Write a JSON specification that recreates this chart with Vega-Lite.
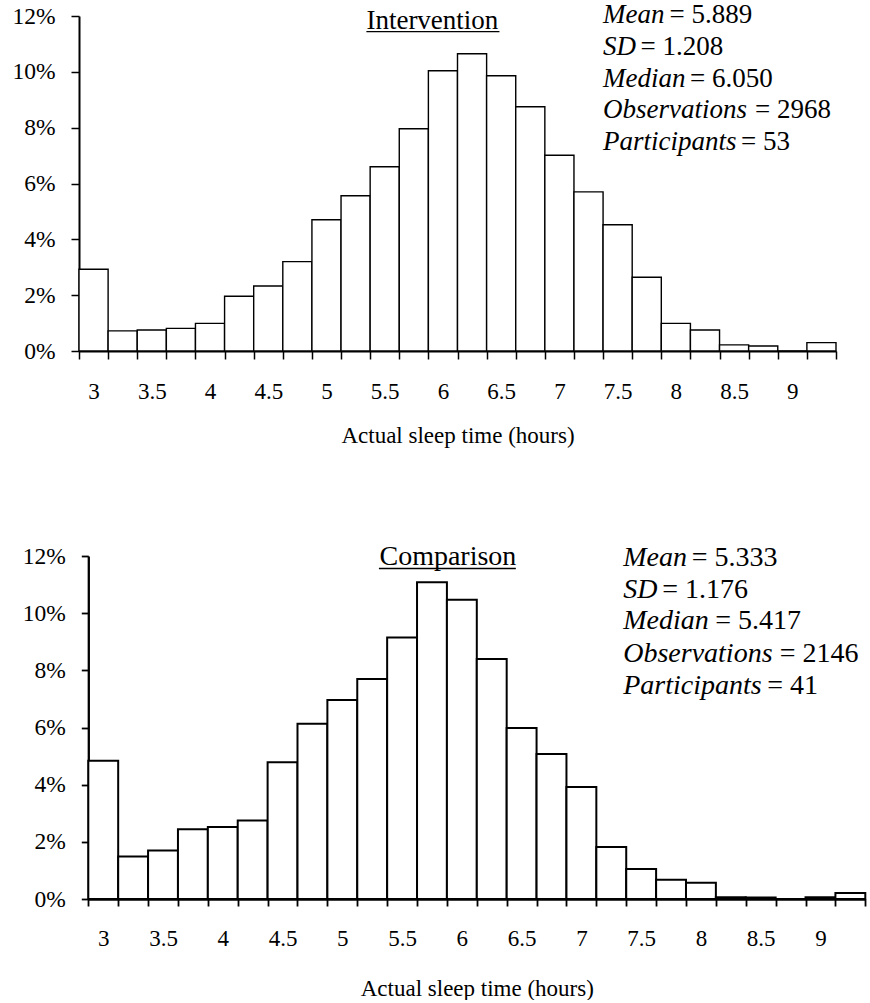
{
  "$schema": "https://vega.github.io/schema/vega-lite/v6.json",
  "background": "white",
  "padding": {"left": 11, "top": 1, "right": 0, "bottom": 0},
  "datasets": {
    "intervention": [
      {"hours": 3, "pct": 2.93}, {"hours": 3.25, "pct": 0.72}, {"hours": 3.5, "pct": 0.75}, {"hours": 3.75, "pct": 0.81},
      {"hours": 4, "pct": 0.99}, {"hours": 4.25, "pct": 1.96}, {"hours": 4.5, "pct": 2.33}, {"hours": 4.75, "pct": 3.2},
      {"hours": 5, "pct": 4.7}, {"hours": 5.25, "pct": 5.56}, {"hours": 5.5, "pct": 6.6}, {"hours": 5.75, "pct": 7.96},
      {"hours": 6, "pct": 10.04}, {"hours": 6.25, "pct": 10.65}, {"hours": 6.5, "pct": 9.86}, {"hours": 6.75, "pct": 8.75},
      {"hours": 7, "pct": 7.01}, {"hours": 7.25, "pct": 5.7}, {"hours": 7.5, "pct": 4.52}, {"hours": 7.75, "pct": 2.64},
      {"hours": 8, "pct": 0.99}, {"hours": 8.25, "pct": 0.75}, {"hours": 8.5, "pct": 0.22}, {"hours": 8.75, "pct": 0.18},
      {"hours": 9, "pct": 0}, {"hours": 9.25, "pct": 0.3}
    ],
    "comparison": [
      {"hours": 3, "pct": 4.84}, {"hours": 3.25, "pct": 1.49}, {"hours": 3.5, "pct": 1.7}, {"hours": 3.75, "pct": 2.44},
      {"hours": 4, "pct": 2.52}, {"hours": 4.25, "pct": 2.75}, {"hours": 4.5, "pct": 4.78}, {"hours": 4.75, "pct": 6.13},
      {"hours": 5, "pct": 6.96}, {"hours": 5.25, "pct": 7.7}, {"hours": 5.5, "pct": 9.15}, {"hours": 5.75, "pct": 11.08},
      {"hours": 6, "pct": 10.47}, {"hours": 6.25, "pct": 8.4}, {"hours": 6.5, "pct": 5.98}, {"hours": 6.75, "pct": 5.07},
      {"hours": 7, "pct": 3.92}, {"hours": 7.25, "pct": 1.82}, {"hours": 7.5, "pct": 1.05}, {"hours": 7.75, "pct": 0.67},
      {"hours": 8, "pct": 0.57}, {"hours": 8.25, "pct": 0.06}, {"hours": 8.5, "pct": 0.05}, {"hours": 8.75, "pct": 0},
      {"hours": 9, "pct": 0.06}, {"hours": 9.25, "pct": 0.21}
    ]
  },
  "spacing": 96,
  "vconcat": [
    {
      "width": 757,
      "height": 335,
      "layer": [
        {
          "data": {"name": "intervention"},
          "mark": {"type": "bar", "fill": "white", "stroke": "black", "strokeWidth": 1.4},
          "encoding": {
            "x": {"field": "hours", "type": "ordinal", "scale": {"paddingInner": 0, "paddingOuter": 0},
              "axis": {"title": "Actual sleep time (hours)", "tickBand": "extent", "labelAngle": 0, "labelExpr": "datum.value % 0.5 == 0 ? datum.label : ''", "labelOverlap": false, "labelFlush": false, "tickSize": 8, "tickWidth": 1.5, "domainWidth": 2, "labelPadding": 21, "titlePadding": 21, "labelFontSize": 23, "titleFontSize": 23, "titleFontWeight": "normal", "grid": false}},
            "y": {"field": "pct", "type": "quantitative", "scale": {"domain": [0, 12], "nice": false},
              "axis": {"title": null, "values": [0,1,2,3,4,5,6,7,8,9,10,11,12], "labelExpr": "datum.value % 2 == 0 ? datum.value + '%' : ''", "labelOverlap": false, "labelFlush": false, "tickSize": 8, "tickWidth": 1.5, "domainWidth": 2, "labelPadding": 16, "labelFontSize": 23.5, "grid": false}}
          }
        },
        {
          "data": {"values": [{}]},
          "mark": {"type": "text", "fontSize": 27, "align": "center", "baseline": "alphabetic", "dx": 4},
          "encoding": {"x": {"datum": 6, "type": "ordinal", "bandPosition": 0}, "y": {"datum": 11.52, "type": "quantitative"}, "text": {"value": "Intervention"}}
        },
        {
          "data": {"values": [{}]},
          "mark": {"type": "rule", "color": "black", "strokeWidth": 1.3, "xOffset": -62, "x2Offset": 56.5},
          "encoding": {"x": {"datum": 6, "type": "ordinal", "bandPosition": 0}, "x2": {"datum": 6}, "y": {"datum": 11.44, "type": "quantitative"}}
        },
        {"data": {"values": [{}]}, "mark": {"type": "text", "fontSize": 27, "fontStyle": "italic", "align": "left", "baseline": "alphabetic"},
          "encoding": {"x": {"datum": 7.5, "type": "ordinal", "bandPosition": 0}, "y": {"datum": 11.74, "type": "quantitative"}, "text": {"value": "Mean"}}},
        {"data": {"values": [{}]}, "mark": {"type": "text", "fontSize": 27, "align": "left", "baseline": "alphabetic", "dx": 66.5},
          "encoding": {"x": {"datum": 7.5, "type": "ordinal", "bandPosition": 0}, "y": {"datum": 11.74, "type": "quantitative"}, "text": {"value": "= 5.889"}}},
        {"data": {"values": [{}]}, "mark": {"type": "text", "fontSize": 27, "fontStyle": "italic", "align": "left", "baseline": "alphabetic"},
          "encoding": {"x": {"datum": 7.5, "type": "ordinal", "bandPosition": 0}, "y": {"datum": 10.6, "type": "quantitative"}, "text": {"value": "SD"}}},
        {"data": {"values": [{}]}, "mark": {"type": "text", "fontSize": 27, "align": "left", "baseline": "alphabetic", "dx": 37.5},
          "encoding": {"x": {"datum": 7.5, "type": "ordinal", "bandPosition": 0}, "y": {"datum": 10.6, "type": "quantitative"}, "text": {"value": "= 1.208"}}},
        {"data": {"values": [{}]}, "mark": {"type": "text", "fontSize": 27, "fontStyle": "italic", "align": "left", "baseline": "alphabetic"},
          "encoding": {"x": {"datum": 7.5, "type": "ordinal", "bandPosition": 0}, "y": {"datum": 9.45, "type": "quantitative"}, "text": {"value": "Median"}}},
        {"data": {"values": [{}]}, "mark": {"type": "text", "fontSize": 27, "align": "left", "baseline": "alphabetic", "dx": 87},
          "encoding": {"x": {"datum": 7.5, "type": "ordinal", "bandPosition": 0}, "y": {"datum": 9.45, "type": "quantitative"}, "text": {"value": "= 6.050"}}},
        {"data": {"values": [{}]}, "mark": {"type": "text", "fontSize": 27, "fontStyle": "italic", "align": "left", "baseline": "alphabetic"},
          "encoding": {"x": {"datum": 7.5, "type": "ordinal", "bandPosition": 0}, "y": {"datum": 8.33, "type": "quantitative"}, "text": {"value": "Observations"}}},
        {"data": {"values": [{}]}, "mark": {"type": "text", "fontSize": 27, "align": "left", "baseline": "alphabetic", "dx": 152},
          "encoding": {"x": {"datum": 7.5, "type": "ordinal", "bandPosition": 0}, "y": {"datum": 8.33, "type": "quantitative"}, "text": {"value": "= 2968"}}},
        {"data": {"values": [{}]}, "mark": {"type": "text", "fontSize": 27, "fontStyle": "italic", "align": "left", "baseline": "alphabetic"},
          "encoding": {"x": {"datum": 7.5, "type": "ordinal", "bandPosition": 0}, "y": {"datum": 7.2, "type": "quantitative"}, "text": {"value": "Participants"}}},
        {"data": {"values": [{}]}, "mark": {"type": "text", "fontSize": 27, "align": "left", "baseline": "alphabetic", "dx": 138},
          "encoding": {"x": {"datum": 7.5, "type": "ordinal", "bandPosition": 0}, "y": {"datum": 7.2, "type": "quantitative"}, "text": {"value": "= 53"}}}
      ]
    },
    {
      "width": 786.3,
      "height": 343,
      "layer": [
        {
          "data": {"name": "comparison"},
          "mark": {"type": "bar", "fill": "white", "stroke": "black", "strokeWidth": 2},
          "encoding": {
            "x": {"field": "hours", "type": "ordinal", "scale": {"paddingInner": 0, "paddingOuter": 0, "range": [9.3, 786.3]},
              "axis": {"title": "Actual sleep time (hours)", "tickBand": "extent", "labelAngle": 0, "labelExpr": "datum.value % 0.5 == 0 ? datum.label : ''", "labelOverlap": false, "labelFlush": false, "tickSize": 7, "tickWidth": 1.8, "domainWidth": 2.3, "labelPadding": 21, "titlePadding": 27, "labelFontSize": 23, "titleFontSize": 23, "titleFontWeight": "normal", "grid": false}},
            "y": {"field": "pct", "type": "quantitative", "scale": {"domain": [0, 12], "nice": false},
              "axis": {"title": null, "offset": -9.3, "values": [0,1,2,3,4,5,6,7,8,9,10,11,12], "labelExpr": "datum.value % 2 == 0 ? datum.value + '%' : ''", "labelOverlap": false, "labelFlush": false, "tickSize": 7, "tickWidth": 1.8, "domainWidth": 2.3, "labelPadding": 16, "labelFontSize": 23.5, "grid": false}}
          }
        },
        {
          "data": {"values": [{}]},
          "mark": {"type": "text", "fontSize": 28, "align": "center", "baseline": "alphabetic", "dx": 1},
          "encoding": {"x": {"datum": 6, "type": "ordinal", "bandPosition": 0}, "y": {"datum": 11.68, "type": "quantitative"}, "text": {"value": "Comparison"}}
        },
        {
          "data": {"values": [{}]},
          "mark": {"type": "rule", "color": "black", "strokeWidth": 1.5, "xOffset": -68, "x2Offset": 54},
          "encoding": {"x": {"datum": 6, "type": "ordinal", "bandPosition": 0}, "x2": {"datum": 6}, "y": {"datum": 11.56, "type": "quantitative"}}
        },
        {"data": {"values": [{}]}, "mark": {"type": "text", "fontSize": 28, "fontStyle": "italic", "align": "left", "baseline": "alphabetic", "dx": -3},
          "encoding": {"x": {"datum": 7.5, "type": "ordinal", "bandPosition": 0}, "y": {"datum": 11.64, "type": "quantitative"}, "text": {"value": "Mean"}}},
        {"data": {"values": [{}]}, "mark": {"type": "text", "fontSize": 28, "align": "left", "baseline": "alphabetic", "dx": 65.5},
          "encoding": {"x": {"datum": 7.5, "type": "ordinal", "bandPosition": 0}, "y": {"datum": 11.64, "type": "quantitative"}, "text": {"value": "= 5.333"}}},
        {"data": {"values": [{}]}, "mark": {"type": "text", "fontSize": 28, "fontStyle": "italic", "align": "left", "baseline": "alphabetic", "dx": -3},
          "encoding": {"x": {"datum": 7.5, "type": "ordinal", "bandPosition": 0}, "y": {"datum": 10.54, "type": "quantitative"}, "text": {"value": "SD"}}},
        {"data": {"values": [{}]}, "mark": {"type": "text", "fontSize": 28, "align": "left", "baseline": "alphabetic", "dx": 36},
          "encoding": {"x": {"datum": 7.5, "type": "ordinal", "bandPosition": 0}, "y": {"datum": 10.54, "type": "quantitative"}, "text": {"value": "= 1.176"}}},
        {"data": {"values": [{}]}, "mark": {"type": "text", "fontSize": 28, "fontStyle": "italic", "align": "left", "baseline": "alphabetic", "dx": -3},
          "encoding": {"x": {"datum": 7.5, "type": "ordinal", "bandPosition": 0}, "y": {"datum": 9.43, "type": "quantitative"}, "text": {"value": "Median"}}},
        {"data": {"values": [{}]}, "mark": {"type": "text", "fontSize": 28, "align": "left", "baseline": "alphabetic", "dx": 89},
          "encoding": {"x": {"datum": 7.5, "type": "ordinal", "bandPosition": 0}, "y": {"datum": 9.43, "type": "quantitative"}, "text": {"value": "= 5.417"}}},
        {"data": {"values": [{}]}, "mark": {"type": "text", "fontSize": 28, "fontStyle": "italic", "align": "left", "baseline": "alphabetic", "dx": -3},
          "encoding": {"x": {"datum": 7.5, "type": "ordinal", "bandPosition": 0}, "y": {"datum": 8.3, "type": "quantitative"}, "text": {"value": "Observations"}}},
        {"data": {"values": [{}]}, "mark": {"type": "text", "fontSize": 28, "align": "left", "baseline": "alphabetic", "dx": 153.5},
          "encoding": {"x": {"datum": 7.5, "type": "ordinal", "bandPosition": 0}, "y": {"datum": 8.3, "type": "quantitative"}, "text": {"value": "= 2146"}}},
        {"data": {"values": [{}]}, "mark": {"type": "text", "fontSize": 28, "fontStyle": "italic", "align": "left", "baseline": "alphabetic", "dx": -3},
          "encoding": {"x": {"datum": 7.5, "type": "ordinal", "bandPosition": 0}, "y": {"datum": 7.18, "type": "quantitative"}, "text": {"value": "Participants"}}},
        {"data": {"values": [{}]}, "mark": {"type": "text", "fontSize": 28, "align": "left", "baseline": "alphabetic", "dx": 141},
          "encoding": {"x": {"datum": 7.5, "type": "ordinal", "bandPosition": 0}, "y": {"datum": 7.18, "type": "quantitative"}, "text": {"value": "= 41"}}}
      ]
    }
  ],
  "config": {
    "font": "Liberation Serif",
    "view": {"stroke": null},
    "text": {"color": "black", "font": "Liberation Serif"},
    "axis": {"domainColor": "black", "tickColor": "black", "labelColor": "black", "titleColor": "black", "labelFont": "Liberation Serif", "titleFont": "Liberation Serif"}
  }
}
